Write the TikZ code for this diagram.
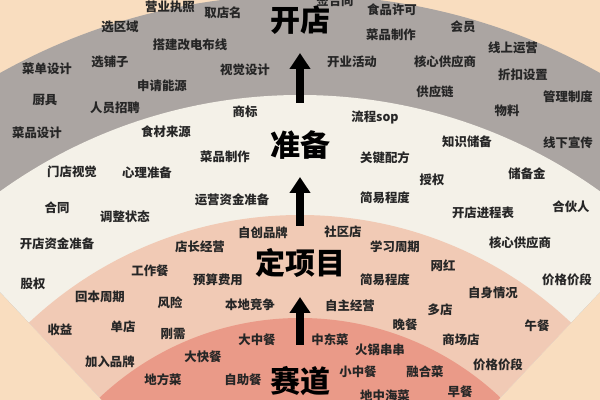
\documentclass[tikz,border=0pt]{standalone}
\usepackage{fontspec}
\setmainfont{Noto Sans CJK SC}
\usetikzlibrary{arrows.meta}
\definecolor{peach}{HTML}{F9DDBF}
\definecolor{grayband}{HTML}{ABA5A2}
\definecolor{creamband}{HTML}{F4F1E8}
\definecolor{salband}{HTML}{F1CAB5}
\definecolor{redband}{HTML}{EA9A88}
\tikzset{
  lbl/.style={font=\fontsize{6.2}{7}\selectfont\bfseries, text=black!85, inner sep=0pt},
  ttl/.style={font=\fontsize{15}{16}\selectfont\bfseries, inner sep=0pt},
  arr/.style={line width=3.6pt, -{Triangle[width=10pt,length=8pt]}}
}
\begin{document}
\begin{tikzpicture}[x=0.5pt,y=-0.5pt]
\useasboundingbox (0,0) rectangle (600,400);
\fill[peach] (0,0) rectangle (600,400);
\begin{scope}
\clip (300,610) -- (0,292) -- (0,-50) -- (600,-50) -- (600,292) -- cycle;
\fill[grayband] (300,610) circle[radius=615];
\fill[creamband] (300,610) circle[radius=515];
\fill[salband] (300,610) circle[radius=395];
\fill[redband] (300,610) circle[radius=292];
\end{scope}
% titles
\node[ttl] (kd) at (300,20) {开店};
\node[ttl] (zb) at (300,145) {准备};
\node[ttl] (dxm) at (300,263) {定项目};
\node[ttl] (sd) at (300,381) {赛道};
\coordinate (a1s) at (300,103); \coordinate (a1e) at (300,53);
\coordinate (a2s) at (300,226); \coordinate (a2e) at (300,177);
\coordinate (a3s) at (300,345); \coordinate (a3e) at (300,297);
\draw[arr] (a1s) -- (a1e);
\draw[arr] (a2s) -- (a2e);
\draw[arr] (a3s) -- (a3e);
% gray band
\node[lbl] (g1) at (170,7) {营业执照};
\node[lbl] (g2) at (223,13) {取店名};
\node[lbl] (g3) at (120,27) {选区域};
\node[lbl] (g4) at (190,45) {搭建改电布线};
\node[lbl] (g5) at (47,69) {菜单设计};
\node[lbl] (g6) at (110,62) {选铺子};
\node[lbl] (g7) at (245,70) {视觉设计};
\node[lbl] (g8) at (162,86) {申请能源};
\node[lbl] (g9) at (45,100) {厨具};
\node[lbl] (g10) at (115,108) {人员招聘};
\node[lbl] (g11) at (37,133) {菜品设计};
\node[lbl] (g12) at (335,1) {签合同};
\node[lbl] (g13) at (392,10) {食品许可};
\node[lbl] (g14) at (463,27) {会员};
\node[lbl] (g15) at (391,35) {菜品制作};
\node[lbl] (g16) at (513,48) {线上运营};
\node[lbl] (g17) at (352,62) {开业活动};
\node[lbl] (g18) at (445,62) {核心供应商};
\node[lbl] (g19) at (523,75) {折扣设置};
\node[lbl] (g20) at (435,92) {供应链};
\node[lbl] (g21) at (568,97) {管理制度};
\node[lbl] (g22) at (507,111) {物料};
% cream band
\node[lbl] (c1) at (245,112) {商标};
\node[lbl] (c2) at (166,132) {食材来源};
\node[lbl] (c3) at (225,157) {菜品制作};
\node[lbl] (c4) at (72,172) {门店视觉};
\node[lbl] (c5) at (147,173) {心理准备};
\node[lbl] (c6) at (375,117) {流程sop};
\node[lbl] (c7) at (467,142) {知识储备};
\node[lbl] (c8) at (568,143) {线下宣传};
\node[lbl] (c9) at (385,158) {关键配方};
\node[lbl] (c10) at (432,180) {授权};
\node[lbl] (c11) at (527,174) {储备金};
\node[lbl] (c12) at (232,200) {运营资金准备};
\node[lbl] (c13) at (385,198) {简易程度};
\node[lbl] (c14) at (57,208) {合同};
\node[lbl] (c15) at (125,217) {调整状态};
\node[lbl] (c16) at (483,213) {开店进程表};
\node[lbl] (c17) at (571,207) {合伙人};
\node[lbl] (c18) at (57,244) {开店资金准备};
\node[lbl] (c19) at (520,243) {核心供应商};
\node[lbl] (c20) at (33,284) {股权};
\node[lbl] (c21) at (567,280) {价格价段};
% salmon band
\node[lbl] (s1) at (263,233) {自创品牌};
\node[lbl] (s2) at (200,247) {店长经营};
\node[lbl] (s3) at (343,232) {社区店};
\node[lbl] (s4) at (395,247) {学习周期};
\node[lbl] (s5) at (150,271) {工作餐};
\node[lbl] (s6) at (218,280) {预算费用};
\node[lbl] (s7) at (443,266) {网红};
\node[lbl] (s8) at (385,280) {简易程度};
\node[lbl] (s9) at (100,297) {回本周期};
\node[lbl] (s10) at (170,303) {风险};
\node[lbl] (s11) at (250,305) {本地竞争};
\node[lbl] (s12) at (493,293) {自身情况};
\node[lbl] (s13) at (350,306) {自主经营};
\node[lbl] (s14) at (440,310) {多店};
\node[lbl] (s15) at (60,330) {收益};
\node[lbl] (s16) at (123,327) {单店};
\node[lbl] (s17) at (173,334) {刚需};
\node[lbl] (s18) at (405,325) {晚餐};
\node[lbl] (s19) at (537,326) {午餐};
\node[lbl] (s20) at (461,340) {商场店};
\node[lbl] (s21) at (110,362) {加入品牌};
\node[lbl] (s22) at (498,365) {价格价段};
% red band
\node[lbl] (r1) at (257,340) {大中餐};
\node[lbl] (r2) at (330,340) {中东菜};
\node[lbl] (r3) at (203,357) {大快餐};
\node[lbl] (r4) at (380,350) {火锅串串};
\node[lbl] (r5) at (163,380) {地方菜};
\node[lbl] (r6) at (243,380) {自助餐};
\node[lbl] (r7) at (358,372) {小中餐};
\node[lbl] (r8) at (425,372) {融合菜};
\node[lbl] (r9) at (460,392) {早餐};
\node[lbl] (r10) at (385,396) {地中海菜};
\end{tikzpicture}
\end{document}
